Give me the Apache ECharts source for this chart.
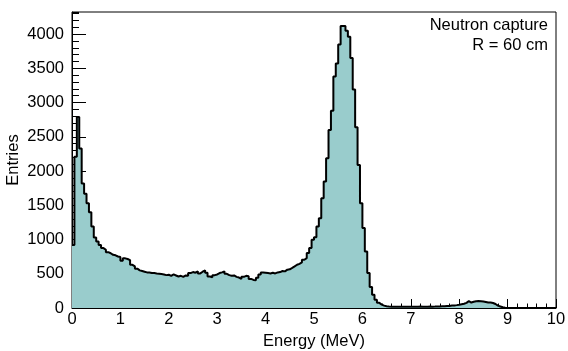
<!DOCTYPE html>
<html>
<head>
<meta charset="utf-8">
<script src="https://cdn.jsdelivr.net/npm/echarts@6/dist/echarts.min.js"></script>
<style>
  html, body { margin: 0; padding: 0; background: #fff; }
  #chart { width: 568px; height: 351px; }
</style>
</head>
<body>
<div id="chart"></div>
<script>
// histogram binning: 200 bins of 0.05 MeV from 0 to 10
const binLow = 0;
const binWidth = 0.05;
const xRange = [0, 10];
const yMax = 4323;

// entries per bin
const counts = [
  // 0.00 - 0.95
  920, 2210, 2790, 2330, 1820, 1670, 1530, 1400, 1190, 1030, 970, 920, 875, 850, 815, 800, 777, 770, 752, 745,
  // 1.00 - 1.95
  690, 725, 715, 700, 630, 607, 575, 550, 540, 530, 520, 518, 510, 512, 505, 500, 495, 490, 480, 485,
  // 2.00 - 2.95
  470, 490, 475, 460, 470, 455, 475, 470, 510, 525, 515, 535, 505, 530, 550, 515, 460, 450, 480, 490,
  // 3.00 - 3.95
  510, 520, 535, 500, 480, 470, 475, 455, 445, 425, 455, 470, 465, 425, 410, 405, 440, 490, 520, 515,
  // 4.00 - 4.95
  510, 505, 515, 505, 520, 525, 540, 535, 560, 565, 585, 607, 631, 645, 665, 704, 729, 802, 875, 996,
  // 5.00 - 5.95
  1035, 1190, 1312, 1604, 1846, 2187, 2600, 2880, 3380, 3570, 3850, 4120, 4120, 4050, 3960, 3650, 3190, 2640, 2090, 1530,
  // 6.00 - 6.95
  1170, 825, 510, 306, 194, 121, 75, 50, 35, 25, 22, 20, 18, 20, 19, 18, 20, 17, 18, 20,
  // 7.00 - 7.95
  19, 18, 20, 21, 18, 20, 19, 22, 20, 21, 23, 22, 25, 24, 28, 30, 35, 38, 42, 48,
  // 8.00 - 8.95
  55, 62, 75, 100, 80, 92, 100, 102, 100, 96, 88, 80, 80, 73, 58, 34, 22, 10, 3, 1,
  // 9.00 - 9.95
  0, 0, 0, 0, 0, 0, 0, 0, 0, 0, 0, 0, 0, 0, 0, 0, 0, 0, 0, 0
];

const infoLines = ['Neutron capture', 'R = 60 cm'];
const xTitle = 'Energy (MeV)';
const yTitle = 'Entries';

const FONT = "'Liberation Sans', Arial, Helvetica, sans-serif";
const FS = 16.5;

// step line: one point per bin lower edge, plus closing point at the upper edge
const histData = counts.map((c, i) => [binLow + i * binWidth, c]);
histData.push([xRange[1], counts[counts.length - 1]]);

const chart = echarts.init(document.getElementById('chart'), null, { renderer: 'canvas' });

const option = {
  animation: false,
  backgroundColor: '#ffffff',
  grid: {
    left: 72, right: 12, top: 12, bottom: 43,
    outerBoundsMode: 'none',
    containLabel: false,
    show: true,
    borderColor: '#000',
    borderWidth: 1,
    backgroundColor: 'transparent'
  },
  xAxis: {
    type: 'value',
    min: xRange[0],
    max: xRange[1],
    interval: 1,
    name: xTitle,
    nameLocation: 'middle',
    nameGap: 22,
    nameTextStyle: { color: '#000', fontSize: FS, fontFamily: FONT },
    axisLine: { show: true, lineStyle: { color: '#000', width: 1 } },
    axisTick: { show: true, inside: true, length: 9, lineStyle: { color: '#000' } },
    minorTick: { show: true, splitNumber: 5, length: 4.5, lineStyle: { color: '#000' } },
    splitLine: { show: false },
    axisLabel: {
      color: '#000', fontSize: FS, fontFamily: FONT, margin: 3,
      formatter: v => String(v)
    }
  },
  yAxis: [{
    // major ticks + labels
    type: 'value',
    min: 0,
    max: yMax,
    interval: 500,
    axisLine: { show: true, lineStyle: { color: '#000', width: 1 } },
    axisTick: { show: true, inside: true, length: 14, lineStyle: { color: '#000' } },
    splitLine: { show: false },
    axisLabel: {
      color: '#000', fontSize: FS, fontFamily: FONT, margin: 8, showMaxLabel: false,
      formatter: v => String(v)
    }
  }, {
    // minor ticks every 100
    type: 'value',
    position: 'left',
    min: 0,
    max: yMax,
    interval: 100,
    axisLine: { show: false },
    axisTick: { show: true, inside: true, length: 7, lineStyle: { color: '#000' } },
    splitLine: { show: false },
    axisLabel: { show: false }
  }],
  graphic: [
    // y axis title, ROOT style
    {
      type: 'text',
      x: 13,
      y: 160,
      rotation: Math.PI / 2,
      style: {
        text: yTitle, fill: '#000', font: FS + 'px ' + FONT,
        textAlign: 'center', textVerticalAlign: 'middle'
      }
    }
  ].concat(infoLines.map((t, i) => ({
    type: 'text',
    right: 20,
    top: 17 + i * 20,
    style: { text: t, fill: '#000', font: FS + 'px ' + FONT, textAlign: 'right' }
  }))),
  series: [{
    type: 'line',
    data: histData,
    step: 'end',
    symbol: 'none',
    clip: true,
    lineStyle: { color: '#000', width: 2 },
    areaStyle: { color: '#99cccc', opacity: 1 }
  }]
};

chart.setOption(option);
</script>
</body>
</html>
